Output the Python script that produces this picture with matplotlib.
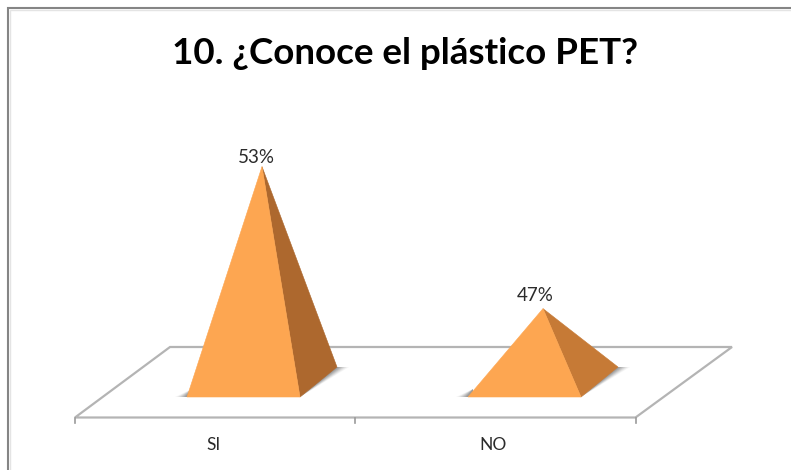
import matplotlib
matplotlib.use("Agg")
import matplotlib.pyplot as plt
from matplotlib.patches import Polygon

categories = ["SI", "NO"]
values = [53, 47]
labels = ["53%", "47%"]
title = "10. ¿Conoce el plástico PET?"

W, H = 791, 470
BASE_VALUE = 43.9      # value at the pyramid base centre
PX_PER_UNIT = 23.67
PX_PER_CAT = 281
CX0, BASE_Y = 262, 382

fig = plt.figure(figsize=(W / 100, H / 100), dpi=100, facecolor="white")
ax = fig.add_axes([0, 0, 1, 1])
ax.set_xlim(-CX0 / PX_PER_CAT, (W - CX0) / PX_PER_CAT)
ax.set_ylim(BASE_VALUE + (BASE_Y - H) / PX_PER_UNIT, BASE_VALUE + BASE_Y / PX_PER_UNIT)
ax.axis("off")


def X(px):
    return (px - CX0) / PX_PER_CAT


def Y(py):
    return BASE_VALUE + (BASE_Y - py) / PX_PER_UNIT


def P(pts):
    return [(X(a), Y(b)) for a, b in pts]


# outer frame of the chart: only the left and top edges are visible
ax.plot([X(8), X(8), X(W)], [Y(H), Y(8), Y(8)], color="#858585", lw=1.5, zorder=0,
        solid_joinstyle="miter")
ax.plot([X(9.5), X(9.5), X(W)], [Y(H), Y(9.5), Y(9.5)], color="#e4e4e4", lw=1.0, zorder=0,
        solid_joinstyle="miter")

# floor
floor = "#b4b4b4"
ax.add_patch(Polygon(P([(75, 417.5), (170, 347), (732, 347), (635.5, 417.5)]),
                     closed=True, fc="white", ec=floor, lw=1.6, zorder=1))
for tx in (75, 354.5, 635.5):
    ax.plot([X(tx)] * 2, [Y(417.5), Y(423)], color="#9a9a9a", lw=1.2, zorder=1)

# pyramids
dy_back = 15
side_colors = ["#ad682e", "#c67a36"]
label_dx = [-4.3, -5.8]
label_dy = [0.2, 3.6]
cat_dx = [48, 50]
for i, (v, lab, cat) in enumerate(zip(values, labels, categories)):
    cx = CX0 + i * PX_PER_CAT
    fl, fr, rb = cx - 75, cx + 38, cx + 75
    yf, yr = BASE_Y + dy_back, BASE_Y - dy_back
    # soft shadows, built from layers that narrow towards the base
    for k, a in zip((12, 10, 8, 6, 4, 2), (0.06, 0.09, 0.12, 0.15, 0.18, 0.20)):
        ax.add_patch(Polygon(P([(fl - k, yf), (fl + 5, yf - 8), (fl + 5, yf)]),
                             closed=True, fc="#555555", ec="none", alpha=a, zorder=2))
        ax.add_patch(Polygon(P([(fr, yf), (rb + k, yr), (rb - 2, yr)]),
                             closed=True, fc="#555555", ec="none", alpha=a, zorder=2))
    apex = (i, v)
    ax.add_patch(Polygon([apex, (X(fr), Y(yf)), (X(rb), Y(yr))], closed=True,
                         fc=side_colors[i], ec=side_colors[i], lw=0.4, zorder=3))
    ax.add_patch(Polygon([apex, (X(fl), Y(yf)), (X(fr), Y(yf))], closed=True,
                         fc="#fda651", ec="#fda651", lw=0.4, zorder=4))
    ax.annotate(lab, xy=apex, xytext=(label_dx[i], label_dy[i]), textcoords="offset points",
                ha="center", va="bottom", fontsize=13.5,
                family="Lato", color="#2b2b2b", zorder=5)
    ax.text(i - cat_dx[i] / PX_PER_CAT, Y(445), cat, ha="center", va="center",
            fontsize=12.5, family="Lato", color="#2b2b2b", zorder=5)

ax.text(X(405.5), Y(53), title, ha="center", va="center", fontsize=26.5,
        family="Lato", fontweight="bold", color="black")

fig.savefig("out.png", dpi=100, facecolor="white")
